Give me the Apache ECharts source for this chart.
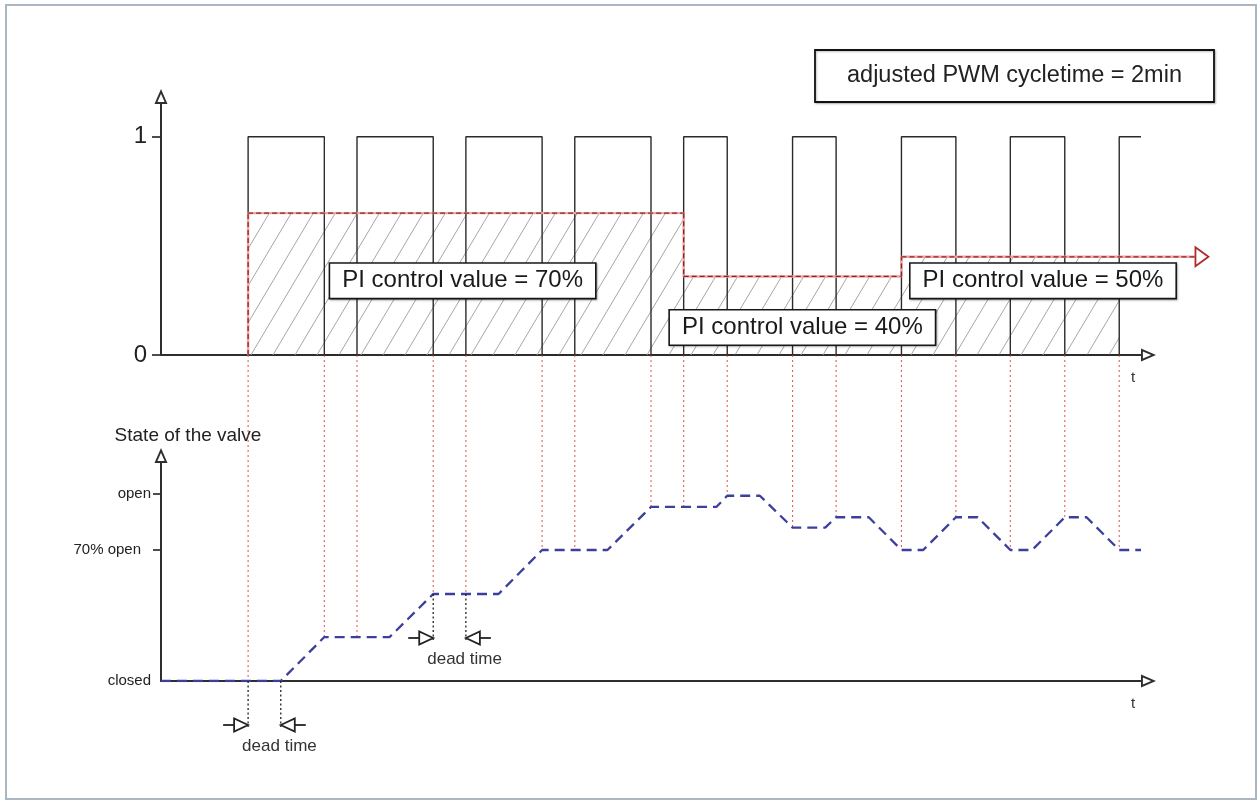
<!DOCTYPE html>
<html><head><meta charset="utf-8">
<script src="https://cdn.jsdelivr.net/npm/echarts@6/dist/echarts.min.js"></script>
<style>html,body{margin:0;padding:0;background:#fff}#c{width:1259px;height:801px}</style>
</head><body><div id="c"></div>
<script>
// ---------------- data ----------------
const pulseOn  = [8, 18, 28, 38, 48, 58, 68, 78, 88];
const pulseOff = [15, 25, 35, 45, 52, 62, 73, 83, null]; // last pulse still on at the end of the axis
const ctrlStart = [8, 48, 68];
const ctrlEnd   = [48, 68, 95];
const ctrlLevel = [0.65, 0.36, 0.45];
const ctrlText  = ['PI control value = 70%', 'PI control value = 40%', 'PI control value = 50%'];
const hatchEnd  = 88;
const valveT = [0, 11, 15, 21, 25, 31, 35, 41, 45, 51, 52, 55, 58, 61, 62, 65, 68, 70, 73, 75, 78, 80, 83, 85, 88, 90];
const valveV = [0, 0, 23.5, 23.5, 46.5, 46.5, 70, 70, 93, 93, 99, 99, 82, 82, 87.5, 87.5, 70, 70, 87.5, 87.5, 70, 70, 87.5, 87.5, 70, 70];
const deadTimes = [[8, 11], [25, 28]];
const pwmTicks = [0, 1];
const pwmTickLabels = ['0', '1'];
const valveTicks = [0, 70, 100];
const valveTickLabels = ['closed', '70% open', 'open'];
const titleText = 'adjusted PWM cycletime = 2min';
const valveAxisName = 'State of the valve';
const timeAxisName = 't';
const deadTimeText = 'dead time';

// ---------------- layout ----------------
const FONT = "'Liberation Sans', Arial, Helvetica, sans-serif";
const X_LEFT = 161, X_MAX = 90, X_WIDTH = 980;
const TOP = {top: 104, height: 251, yMax: 1.15};
const BOT = {top: 463, height: 218, yMax: 116.5};
const TOP_BASE_PX = TOP.top + TOP.height;
const LABEL_AT = [[27.7, 0.34], [58.9, 0.126], [81.0, 0.34]];
const AXIS_C = '#2e2e2e';
const ARROW_UP = 'path://M6.5,0 L13,15 L0,15 Z M6.5,4.8 L2.9,13.1 L10.1,13.1 Z';

function valveAt(t) {
  for (let i = 1; i < valveT.length; i++) {
    if (t <= valveT[i]) {
      const f = (t - valveT[i - 1]) / (valveT[i] - valveT[i - 1]);
      return valveV[i - 1] + f * (valveV[i] - valveV[i - 1]);
    }
  }
  return valveV[valveV.length - 1];
}

// pulses polyline
const pulseData = [];
pulseOn.forEach((s, i) => {
  pulseData.push([s, 0], [s, 1]);
  if (pulseOff[i] == null) pulseData.push([X_MAX, 1]);
  else pulseData.push([pulseOff[i], 1], [pulseOff[i], 0]);
});
// control value step line, as segments
const ctrlPts = [[ctrlStart[0], 0]];
ctrlStart.forEach((s, i) => { ctrlPts.push([s, ctrlLevel[i]], [ctrlEnd[i], ctrlLevel[i]]); });
const ctrlSeg = ctrlPts.slice(1).map((p, i) => [ctrlPts[i][0], ctrlPts[i][1], p[0], p[1]]);
// hatched area
const hatchData = [];
ctrlStart.forEach((s, i) => { hatchData.push([s, ctrlLevel[i]], [Math.min(ctrlEnd[i], hatchEnd), ctrlLevel[i]]); });
// connectors
const edges = pulseOn.concat(pulseOff.filter(v => v != null)).sort((a, b) => a - b);
const connData = edges.map(t => [t, valveAt(t)]);
const deadData = deadTimes.map(d => [d[0], d[1], valveAt(d[0])]);

// hatch pattern
const pc = document.createElement('canvas');
pc.width = 22; pc.height = 37;
const g = pc.getContext('2d');
g.strokeStyle = '#a6a6a6'; g.lineWidth = 1;
g.beginPath();
g.moveTo(0, 37); g.lineTo(22, 0);
g.moveTo(-22, 37); g.lineTo(0, 0);
g.moveTo(22, 37); g.lineTo(44, 0);
g.stroke();

const chart = echarts.init(document.getElementById('c'), null, {renderer: 'canvas'});

const axisLine = {
  show: true,
  symbol: ['none', ARROW_UP],
  symbolSize: [13, 15],
  symbolOffset: [0, 7.5],
  lineStyle: {color: AXIS_C, width: 2}
};
const nameT = {
  name: timeAxisName, nameLocation: 'end', nameGap: -8,
  nameTextStyle: {fontSize: 15, color: '#333', fontFamily: FONT, align: 'center', verticalAlign: 'top', padding: [15, 0, 0, 0]}
};

const option = {
  animation: false,
  backgroundColor: '#fff',
  textStyle: {fontFamily: FONT},
  title: {
    text: titleText, left: 815, top: 50,
    padding: [12, 32],
    borderColor: '#111', borderWidth: 1.8, backgroundColor: '#fff',
    shadowColor: 'rgba(0,0,0,0.25)', shadowBlur: 2, shadowOffsetX: 1, shadowOffsetY: 1,
    textStyle: {fontSize: 23.5, fontWeight: 'normal', color: '#222', fontFamily: FONT, lineHeight: 28}
  },
  graphic: [{
    type: 'rect', shape: {x: 6, y: 5, width: 1250, height: 794},
    style: {fill: 'none', stroke: '#aab6c2', lineWidth: 2}, silent: true, z: 100
  }],
  grid: [
    {left: X_LEFT, top: TOP.top, width: X_WIDTH, height: TOP.height, outerBoundsMode: 'none'},
    {left: X_LEFT, top: BOT.top, width: X_WIDTH, height: BOT.height, outerBoundsMode: 'none'}
  ],
  xAxis: [
    Object.assign({type: 'value', gridIndex: 0, min: 0, max: X_MAX, axisLine: axisLine,
      axisTick: {show: false}, axisLabel: {show: false}, splitLine: {show: false}}, nameT),
    Object.assign({type: 'value', gridIndex: 1, min: 0, max: X_MAX, axisLine: axisLine,
      axisTick: {show: false}, axisLabel: {show: false}, splitLine: {show: false}}, nameT)
  ],
  yAxis: [
    {type: 'value', gridIndex: 0, min: 0, max: TOP.yMax, axisLine: axisLine, splitLine: {show: false},
      axisTick: {show: true, length: 9, customValues: pwmTicks, lineStyle: {color: AXIS_C, width: 1.7}},
      axisLabel: {show: true, customValues: pwmTicks, margin: 14, fontSize: 24, color: '#222', fontFamily: FONT,
        formatter: v => pwmTickLabels[pwmTicks.indexOf(v)]}},
    {type: 'value', gridIndex: 1, min: 0, max: BOT.yMax, axisLine: axisLine, splitLine: {show: false},
      name: valveAxisName, nameLocation: 'end', nameGap: 18,
      nameTextStyle: {fontSize: 19, color: '#222', fontFamily: FONT, align: 'center', padding: [0, 0, 0, 54]},
      axisTick: {show: true, length: 8, customValues: [70, 100], lineStyle: {color: AXIS_C, width: 1.7}},
      axisLabel: {show: true, customValues: valveTicks, margin: 10, fontSize: 15, color: '#222', fontFamily: FONT,
        formatter: v => {
          const s = valveTickLabels[valveTicks.indexOf(v)];
          return v === 70 ? '{p|' + s + '}' : s;
        },
        rich: {p: {padding: [0, 10, 0, 0], fontSize: 15, color: '#222', fontFamily: FONT}}}}
  ],
  series: [
    {
      name: 'hatch', type: 'line', xAxisIndex: 0, yAxisIndex: 0, data: hatchData, symbol: 'none',
      lineStyle: {width: 0, opacity: 0}, areaStyle: {color: {image: pc, repeat: 'repeat'}, opacity: 1}, z: 1, silent: true
    },
    {
      name: 'PWM', type: 'line', xAxisIndex: 0, yAxisIndex: 0, data: pulseData, symbol: 'none',
      lineStyle: {color: '#2a2a2a', width: 1.4}, z: 3, silent: true
    },
    {
      name: 'PI control value', type: 'custom', xAxisIndex: 0, yAxisIndex: 0, data: ctrlSeg, clip: false, z: 4, silent: true,
      renderItem: (params, api) => {
        const a = api.coord([api.value(0), api.value(1)]);
        const b = api.coord([api.value(2), api.value(3)]);
        const ch = [
          {type: 'line', shape: {x1: a[0], y1: a[1], x2: b[0], y2: b[1]}, style: {stroke: '#f0a4a4', lineWidth: 2.4}},
          {type: 'line', shape: {x1: a[0], y1: a[1], x2: b[0], y2: b[1]}, style: {stroke: '#8e2323', lineWidth: 1.3, lineDash: [5, 3]}}
        ];
        if (params.dataIndex === ctrlSeg.length - 1) {
          ch.push({type: 'polygon', shape: {points: [[b[0] + 13, b[1]], [b[0], b[1] - 9.5], [b[0], b[1] + 9.5]]},
            style: {fill: '#fff', stroke: '#b02a2a', lineWidth: 1.8}});
        }
        return {type: 'group', children: ch};
      }
    },
    {
      name: 'labels', type: 'scatter', xAxisIndex: 0, yAxisIndex: 0, symbolSize: 1,
      itemStyle: {color: 'transparent', opacity: 1}, z: 10, silent: true,
      data: LABEL_AT.map((p, i) => ({value: p, name: ctrlText[i]})),
      label: {
        show: true, position: 'inside', formatter: '{b}',
        fontSize: 24, color: '#1a1a1a', fontFamily: FONT,
        backgroundColor: '#fff', borderColor: '#1a1a1a', borderWidth: 1.6,
        padding: [5, 12], opacity: 1,
        shadowColor: 'rgba(0,0,0,0.3)', shadowBlur: 2, shadowOffsetX: 1, shadowOffsetY: 1
      }
    },
    {
      name: 'connectors', type: 'custom', xAxisIndex: 1, yAxisIndex: 1, data: connData, clip: false, z: 1, silent: true,
      renderItem: (params, api) => {
        const p = api.coord([api.value(0), api.value(1)]);
        return {type: 'line', shape: {x1: p[0], y1: TOP_BASE_PX, x2: p[0], y2: p[1]},
          style: {stroke: '#e06060', lineWidth: 1.1, lineDash: [2, 3]}};
      }
    },
    {
      name: 'valve', type: 'line', xAxisIndex: 1, yAxisIndex: 1,
      data: valveT.map((t, i) => [t, valveV[i]]), symbol: 'none',
      lineStyle: {color: '#3d3f9c', width: 2.3, type: [10, 6]}, z: 3, silent: true
    },
    {
      name: 'dead time', type: 'custom', xAxisIndex: 1, yAxisIndex: 1, data: deadData, clip: false, z: 4, silent: true,
      renderItem: (params, api) => {
        const lv = api.value(2);
        const a = api.coord([api.value(0), lv]), b = api.coord([api.value(1), lv]);
        const yA = a[1] + 44, yT = a[1] + 65;
        const blk = '#222';
        const dot = {stroke: blk, lineWidth: 1.3, lineDash: [2, 2.5]};
        const tri = (tipX, dir) => ({type: 'polygon',
          shape: {points: [[tipX, yA], [tipX - dir * 14, yA - 6.5], [tipX - dir * 14, yA + 6.5]]},
          style: {fill: '#fff', stroke: blk, lineWidth: 1.8}});
        return {type: 'group', children: [
          {type: 'line', shape: {x1: a[0], y1: a[1], x2: a[0], y2: yA + 2}, style: dot},
          {type: 'line', shape: {x1: b[0], y1: b[1], x2: b[0], y2: yA + 2}, style: dot},
          {type: 'line', shape: {x1: a[0] - 25, y1: yA, x2: a[0] - 14, y2: yA}, style: {stroke: blk, lineWidth: 1.8}},
          tri(a[0], 1),
          {type: 'line', shape: {x1: b[0] + 14, y1: yA, x2: b[0] + 25, y2: yA}, style: {stroke: blk, lineWidth: 1.8}},
          tri(b[0], -1),
          {type: 'text', style: {text: deadTimeText, x: (a[0] + b[0]) / 2 + 15, y: yT, align: 'center',
            verticalAlign: 'middle', fontSize: 17, fontFamily: FONT, fill: '#333'}}
        ]};
      }
    }
  ]
};
chart.setOption(option);
</script>
</body></html>
